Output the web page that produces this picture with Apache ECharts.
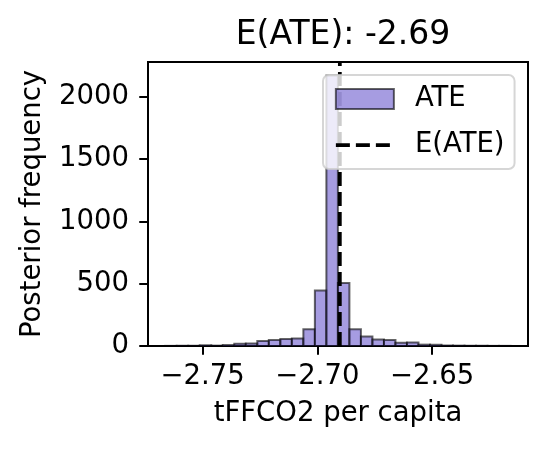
<!DOCTYPE html>
<html lang="en">
<head>
    <meta charset="UTF-8">
    <title>E(ATE)</title>
    <style>
        html, body { margin: 0; padding: 0; background: #fff; }
        #chart { width: 549px; height: 450px; }
    </style>
</head>
<body>
<div id="chart"></div>

<script src="https://cdn.jsdelivr.net/npm/echarts@6/dist/echarts.min.js"></script>
<script>
    // histogram: 30 bins of equal width, starting at binStart
    var binStart = -2.7663;
    var binWidth = 0.005017;
    var counts = [1, 2, 2, 6, 3, 8, 19, 21, 40, 48,
                  56, 61, 134, 445, 2172, 505, 134, 76, 52, 48,
                  26, 29, 11, 10, 4, 3, 2, 2, 1, 1];
    var meanATE = -2.6902;
    var xTicks = [-2.75, -2.70, -2.65];
    var yTicks = [0, 500, 1000, 1500, 2000];
    var xMin = -2.7738, xMax = -2.6082, yMax = 2280;

    var barColor = 'rgba(106, 90, 205, 0.6)';
    var barEdge = 'rgba(0, 0, 0, 0.6)';

    var bins = [];
    for (var i = 0; i < counts.length; i++) {
        var lo = binStart + i * binWidth;
        bins.push([lo, lo + binWidth, counts[i]]);
    }

    function minus(v) {
        return v < 0 ? '\u2212' + Math.abs(v).toFixed(2) : v.toFixed(2);
    }

    var myChart = echarts.init(document.getElementById('chart'));
    var font = 'DejaVu Sans';
    var fs = 27.5;
    var option = {
        animation: false,
        backgroundColor: '#fff',
        textStyle: { fontFamily: font },
        title: {
            text: 'E(ATE): -2.69',
            left: 338,
            top: 14,
            textAlign: 'center',
            textStyle: { fontFamily: font, fontSize: 33, fontWeight: 'normal', color: '#000' }
        },
        grid: {
            left: 148, right: 21, top: 62, bottom: 104,
            show: true, borderColor: '#000', borderWidth: 2, backgroundColor: 'transparent'
        },
        legend: {
            orient: 'vertical',
            left: 323,
            top: 75,
            padding: [10, 10, 10, 11],
            itemWidth: 58,
            itemHeight: 20,
            itemGap: 18,
            backgroundColor: 'rgba(255,255,255,0.8)',
            borderColor: 'rgba(204,204,204,0.8)',
            borderWidth: 2,
            borderRadius: 6,
            textStyle: { fontFamily: font, fontSize: fs, color: '#000', padding: [0, 0, 0, 16] },
            data: [
                { name: 'ATE', icon: 'rect',
                  itemStyle: { color: barColor, borderColor: barEdge, borderWidth: 2 } },
                { name: 'E(ATE)', itemStyle: { opacity: 0 },
                  lineStyle: { color: '#000', width: 3.75, type: [14, 6] } }
            ]
        },
        xAxis: {
            type: 'value',
            min: xMin,
            max: xMax,
            name: 'tFFCO2 per capita',
            nameLocation: 'middle',
            nameGap: 54,
            nameTextStyle: { fontFamily: font, fontSize: fs, color: '#000' },
            axisLine: { show: true, lineStyle: { color: '#000', width: 2 } },
            axisTick: { show: true, length: 8.75, lineStyle: { color: '#000', width: 2 }, customValues: xTicks },
            axisLabel: {
                customValues: xTicks,
                formatter: function (v) { return minus(v); },
                fontFamily: font, fontSize: fs, color: '#000', margin: 17
            },
            splitLine: { show: false }
        },
        yAxis: {
            type: 'value',
            min: 0,
            max: yMax,
            name: 'Posterior frequency',
            nameLocation: 'middle',
            nameGap: 101,
            nameTextStyle: { fontFamily: font, fontSize: fs, color: '#000' },
            axisLine: { show: true, lineStyle: { color: '#000', width: 2 } },
            axisTick: { show: true, length: 8.75, lineStyle: { color: '#000', width: 2 }, customValues: yTicks },
            axisLabel: {
                customValues: yTicks,
                formatter: function (v) { return String(v); },
                fontFamily: font, fontSize: fs, color: '#000', margin: 19
            },
            splitLine: { show: false }
        },
        series: [
            {
                name: 'ATE',
                type: 'custom',
                color: barColor,
                data: bins,
                renderItem: function (params, api) {
                    var p0 = api.coord([api.value(0), api.value(2)]);
                    var p1 = api.coord([api.value(1), 0]);
                    return {
                        type: 'rect',
                        shape: { x: p0[0], y: p0[1], width: p1[0] - p0[0], height: p1[1] - p0[1] },
                        style: { fill: barColor, stroke: barEdge, lineWidth: 2 }
                    };
                },
                z: 2
            },
            {
                name: 'E(ATE)',
                type: 'line',
                symbol: 'none',
                data: [[meanATE, 0], [meanATE, yMax]],
                lineStyle: { color: '#000', width: 3.75, type: [14, 6] },
                itemStyle: { color: '#000' },
                z: 3
            }
        ]
    };
    myChart.setOption(option);
</script>

</body>
</html>
